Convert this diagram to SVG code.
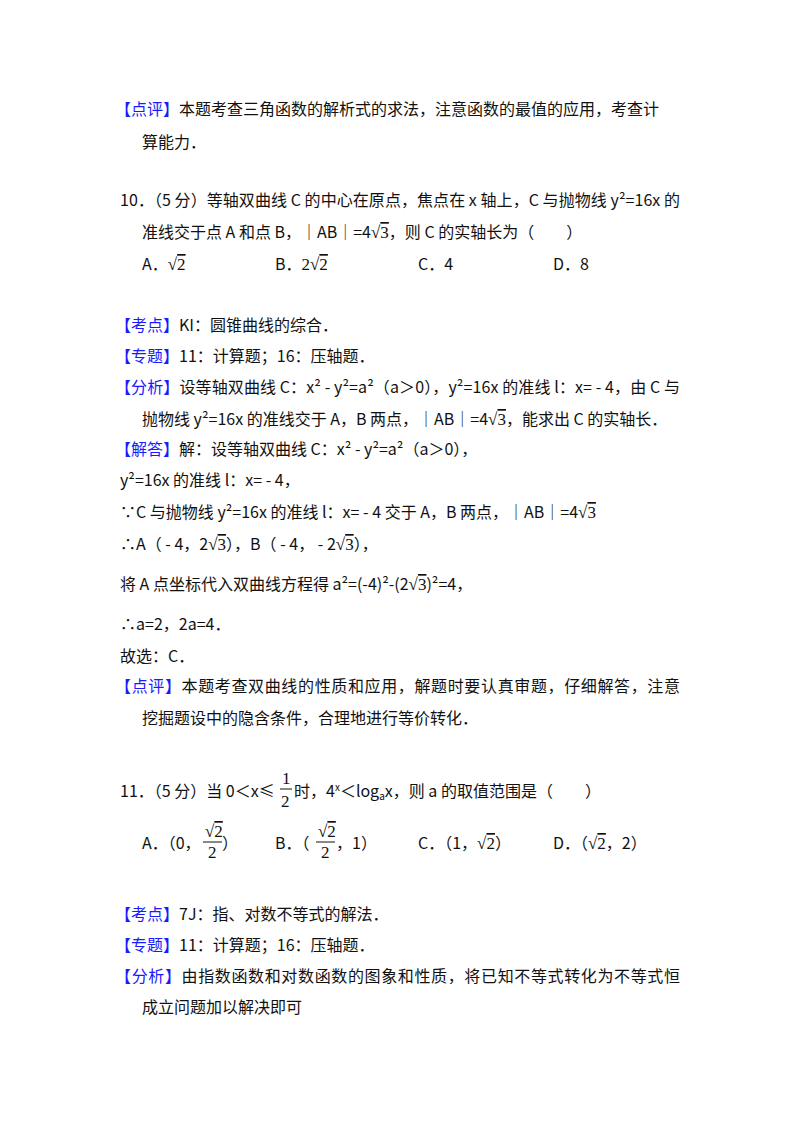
<svg xmlns="http://www.w3.org/2000/svg" width="800" height="1133" viewBox="0 0 800 1133">
<style>
text{font-family:"Noto Sans CJK SC","Liberation Sans",sans-serif;font-size:16px;fill:#111}
.b{fill:#1a1aff}
.m{font-family:"Liberation Serif",serif;font-size:17px}
.o{text-decoration:overline}
.s{font-size:10px}
</style>
<rect width="800" height="1133" fill="#fff"/>
<text x="115" y="115"><tspan class="b">【点评】</tspan>本题考查三角函数的解析式的求法，注意函数的最值的应用，考查计</text>
<text x="142" y="148">算能力．</text>

<text x="120" y="206" textLength="560">10．（5 分）等轴双曲线 C 的中心在原点，焦点在 x 轴上，C 与抛物线 y²=16x 的</text>
<text x="142" y="238">准线交于点 A 和点 B，｜AB｜=4<tspan class="m">√<tspan class="o">3</tspan></tspan>，则 C 的实轴长为（　　）</text>
<text x="142" y="270">A．<tspan class="m">√<tspan class="o">2</tspan></tspan></text>
<text x="275" y="270">B．<tspan class="m">2√<tspan class="o">2</tspan></tspan></text>
<text x="418" y="270">C．4</text>
<text x="553" y="270">D．8</text>

<text x="115" y="331"><tspan class="b">【考点】</tspan>KI：圆锥曲线的综合．</text>
<text x="115" y="362"><tspan class="b">【专题】</tspan>11：计算题；16：压轴题．</text>
<text x="115" y="393" textLength="565"><tspan class="b">【分析】</tspan>设等轴双曲线 C：x² - y²=a²（a＞0），y²=16x 的准线 l：x= - 4，由 C 与</text>
<text x="142" y="425">抛物线 y²=16x 的准线交于 A，B 两点，｜AB｜=4<tspan class="m">√<tspan class="o">3</tspan></tspan>，能求出 C 的实轴长．</text>
<text x="115" y="455"><tspan class="b">【解答】</tspan>解：设等轴双曲线 C：x² - y²=a²（a＞0），</text>
<text x="120" y="486">y²=16x 的准线 l：x= - 4，</text>
<text x="120" y="518">∵C 与抛物线 y²=16x 的准线 l：x= - 4 交于 A，B 两点，｜AB｜=4<tspan class="m">√<tspan class="o">3</tspan></tspan></text>
<text x="120" y="550">∴A（ - 4，2<tspan class="m">√<tspan class="o">3</tspan></tspan>），B（ - 4， - 2<tspan class="m">√<tspan class="o">3</tspan></tspan>），</text>
<text x="120" y="590">将 A 点坐标代入双曲线方程得 a²=(-4)²-(2<tspan class="m">√<tspan class="o">3</tspan></tspan>)²=4，</text>
<text x="120" y="630">∴a=2，2a=4．</text>
<text x="120" y="662">故选：C．</text>
<text x="115" y="692" textLength="565"><tspan class="b">【点评】</tspan>本题考查双曲线的性质和应用，解题时要认真审题，仔细解答，注意</text>
<text x="142" y="724">挖掘题设中的隐含条件，合理地进行等价转化．</text>

<text x="120" y="797">11．（5 分）当 0＜x≤</text>
<text x="282" y="784" class="m" font-size="14">1</text>
<line x1="280" y1="789" x2="292" y2="789" stroke="#111"/>
<text x="281" y="807" class="m" font-size="14">2</text>
<text x="294" y="797">时，4<tspan class="s" dy="-6">x</tspan><tspan dy="6">＜log</tspan><tspan class="s" dy="3">a</tspan><tspan dy="-3">x，则 a 的取值范围是（　　）</tspan></text>

<text x="142" y="849">A．（0，</text>
<text x="205" y="837" class="m" font-size="14">√<tspan class="o">2</tspan></text>
<line x1="203" y1="842" x2="222" y2="842" stroke="#111"/>
<text x="208" y="858" class="m" font-size="14">2</text>
<text x="222" y="849">）</text>

<text x="275" y="849">B．（</text>
<text x="318" y="837" class="m" font-size="14">√<tspan class="o">2</tspan></text>
<line x1="316" y1="842" x2="335" y2="842" stroke="#111"/>
<text x="321" y="858" class="m" font-size="14">2</text>
<text x="336" y="849">，1）</text>

<text x="418" y="849">C．（1，<tspan class="m">√<tspan class="o">2</tspan></tspan>）</text>
<text x="553" y="849">D．（<tspan class="m">√<tspan class="o">2</tspan></tspan>，2）</text>

<text x="115" y="920"><tspan class="b">【考点】</tspan>7J：指、对数不等式的解法．</text>
<text x="115" y="951"><tspan class="b">【专题】</tspan>11：计算题；16：压轴题．</text>
<text x="115" y="982" textLength="565"><tspan class="b">【分析】</tspan>由指数函数和对数函数的图象和性质，将已知不等式转化为不等式恒</text>
<text x="142" y="1013">成立问题加以解决即可</text>
</svg>
